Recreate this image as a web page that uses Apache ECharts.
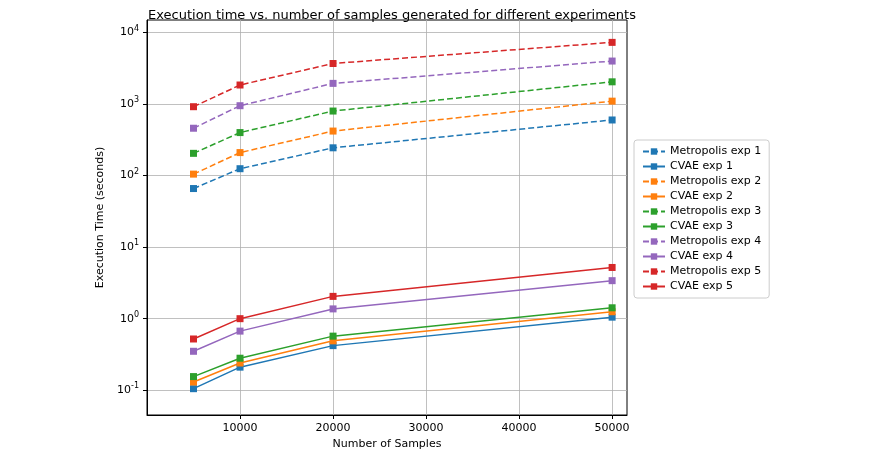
<!DOCTYPE html>
<html>
<head>
<meta charset="utf-8">
<script src="https://cdn.jsdelivr.net/npm/echarts@6/dist/echarts.min.js"></script>
<style>html,body{margin:0;padding:0;background:#fff}#chart{width:869px;height:474px}</style>
</head>
<body>
<div id="chart"></div>
<script>
var samples = [5000, 10000, 20000, 50000];
var metro1 = [66, 125, 245, 600];
var metro2 = [105, 210, 420, 1100];
var metro3 = [205, 400, 800, 2050];
var metro4 = [460, 950, 1950, 4000];
var metro5 = [920, 1850, 3700, 7300];
var cvae1 = [0.105, 0.21, 0.42, 1.05];
var cvae2 = [0.13, 0.24, 0.49, 1.25];
var cvae3 = [0.155, 0.28, 0.57, 1.42];
var cvae4 = [0.35, 0.67, 1.37, 3.4];
var cvae5 = [0.52, 1.0, 2.05, 5.2];
var xTicks = [10000, 20000, 30000, 40000, 50000];
var yTicks = [0.1, 1, 10, 100, 1000, 10000];

var colors = ['#1f77b4', '#ff7f0e', '#2ca02c', '#9467bd', '#d62728'];
var groups = [[metro1, cvae1], [metro2, cvae2], [metro3, cvae3], [metro4, cvae4], [metro5, cvae5]];

function mk(name, vals, color, dashed) {
    return {
        name: name, type: 'line', data: samples.map(function (s, i) { return [s, vals[i]]; }),
        symbol: 'rect', symbolSize: 7, color: color,
        lineStyle: { width: 1.5, type: dashed ? [6, 3] : 'solid', color: color },
        itemStyle: { color: color }
    };
}
var series = [];
groups.forEach(function (g, i) {
    series.push(mk('Metropolis exp ' + (i + 1), g[0], colors[i], true));
    series.push(mk('CVAE exp ' + (i + 1), g[1], colors[i], false));
});

var chart = echarts.init(document.getElementById('chart'));
chart.setOption({
    animation: false,
    textStyle: { fontFamily: 'DejaVu Sans' },
    title: { text: 'Execution time vs. number of samples generated for different experiments', left: 387, top: 4, textAlign: 'center',
        textStyle: { fontSize: 13, fontWeight: 'normal', color: '#000' } },
    grid: { left: 147, right: 242, top: 20, bottom: 59, show: true, borderColor: '#000', borderWidth: 1 },
    legend: {
        orient: 'vertical', left: 634, top: 140, itemWidth: 22, itemHeight: 8, itemGap: 4,
        padding: [6, 8], borderColor: '#ccc', borderWidth: 1, borderRadius: 3,
        textStyle: { fontSize: 11, color: '#000' }
    },
    xAxis: {
        type: 'value', min: 0, max: 51600, name: 'Number of Samples', nameLocation: 'middle', nameGap: 22,
        nameTextStyle: { fontSize: 11, color: '#000' },
        axisLine: { lineStyle: { color: '#000' } },
        axisTick: { customValues: xTicks, length: 4, lineStyle: { color: '#000' } },
        axisLabel: { customValues: xTicks, fontSize: 11, color: '#000', formatter: function (v) { return String(v); } },
        splitLine: { show: true, lineStyle: { color: '#b0b0b0', width: 0.8 } }
    },
    yAxis: {
        type: 'log', min: 0.045, max: 15000, name: 'Execution Time (seconds)', nameLocation: 'middle', nameGap: 32,
        nameTextStyle: { fontSize: 11, color: '#000' },
        axisLine: { show: true, lineStyle: { color: '#000' } },
        axisTick: { show: true, customValues: yTicks, length: 4, lineStyle: { color: '#000' } },
        axisLabel: { customValues: yTicks, fontSize: 11, color: '#000',
            formatter: function (v) { return '10{s|' + Math.round(Math.log10(v)) + '}'; },
            rich: { s: { fontSize: 8, verticalAlign: 'top', padding: [0, 0, 8, 0] } } },
        splitLine: { show: true, lineStyle: { color: '#b0b0b0', width: 0.8 } }
    },
    series: series
});
</script>
</body>
</html>
